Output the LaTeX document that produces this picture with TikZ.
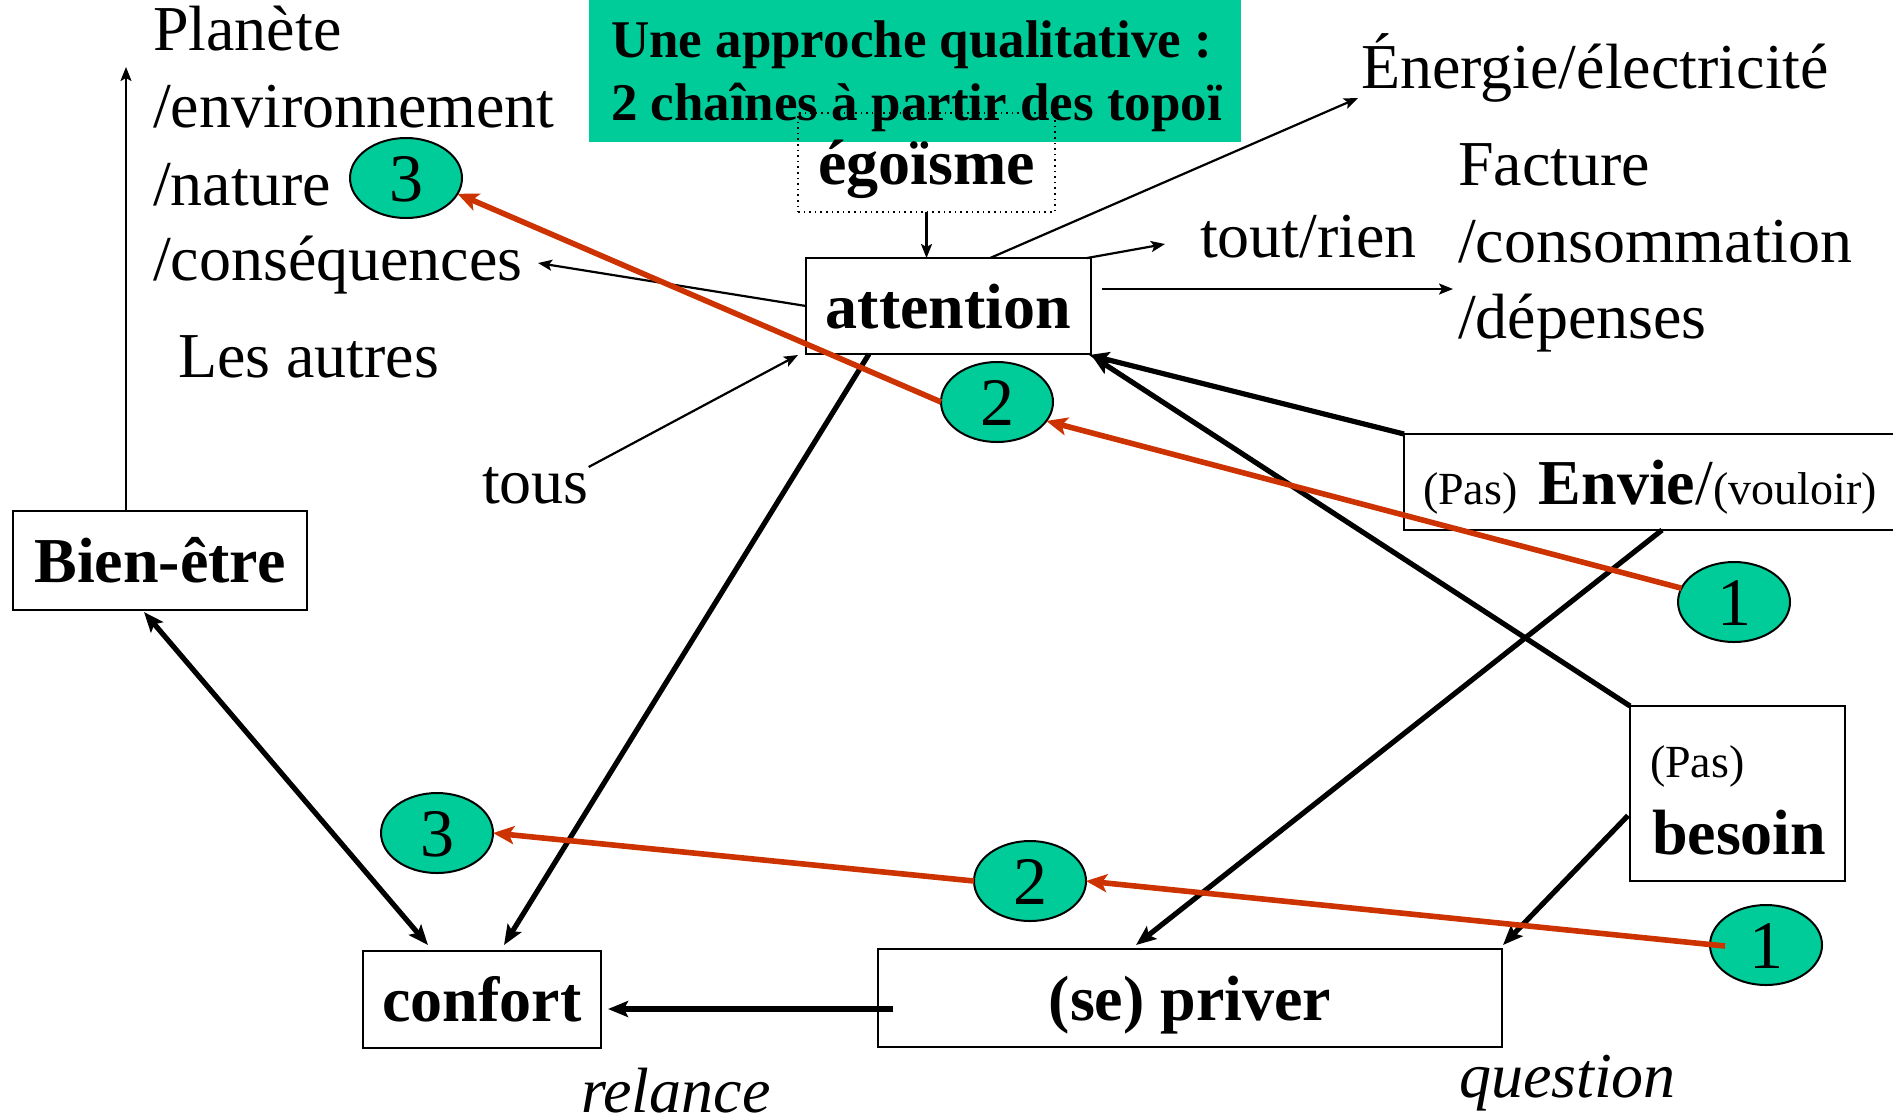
\documentclass[tikz,border=0pt]{standalone}
\usepackage{fontspec}
\setmainfont{Liberation Serif}
\usetikzlibrary{arrows.meta,shapes.geometric,calc}
\definecolor{tealg}{RGB}{0,204,153}
\definecolor{redc}{RGB}{204,51,0}
\newcommand{\smallsz}{\fontsize{23pt}{28pt}\selectfont}
\begin{document}
\begin{tikzpicture}[x=0.5pt,y=-0.5pt,
  every node/.style={inner sep=0pt, outer sep=0pt},
  bigr/.style={font=\fontsize{32pt}{38pt}\selectfont},
  bigb/.style={font=\fontsize{32pt}{38pt}\selectfont\bfseries},
  txt/.style={anchor=base west, bigr},
  boxn/.style={draw, line width=0.8pt, rectangle, text height=22pt, text depth=0pt, bigb},
  numb/.style={ellipse, draw=black, line width=1pt, fill=tealg, minimum width=56pt, minimum height=40pt, font=\fontsize{34pt}{40pt}\selectfont, text height=23pt, text depth=0pt},
  thinarr/.style={line width=1.1pt, -{Stealth[length=7pt,width=5.5pt,inset=1.5pt]}},
  thickarr/.style={line width=2.6pt, -{Stealth[length=10pt,width=8pt,inset=2pt]}},
  thickboth/.style={line width=2.6pt, {Stealth[length=10pt,width=8pt,inset=2pt]}-{Stealth[length=10pt,width=8pt,inset=2pt]}},
  redarr/.style={line width=2.8pt, draw=redc, -{Stealth[length=10.5pt,width=9pt,inset=2.5pt]}},
]
\useasboundingbox (0,0) rectangle (1893,1116);

% title
\node[fill=tealg, minimum width=326pt, minimum height=71pt, anchor=north west] (title) at (589,0) {};
\node[anchor=base west, font=\fontsize{26.5pt}{32pt}\selectfont\bfseries] (t1) at (611,57) {Une approche qualitative :};
\node[anchor=base west, font=\fontsize{26.5pt}{32pt}\selectfont\bfseries] (t2) at (611,120) {2 chaînes à partir des topoï};

% boxes
\node[boxn, dotted, line width=1pt, minimum width=128.5pt, minimum height=49.5pt] (ego) at (926.5,162.5) {égoïsme};
\node[boxn, minimum width=142.5pt, minimum height=48pt] (att) at (948.5,306) {attention};
\node[boxn, minimum width=147pt, minimum height=49.5pt] (bien) at (160,560.5) {Bien-être};
\node[boxn, minimum width=119pt, minimum height=48.5pt] (conf) at (482,999.5) {confort};
\node[boxn, minimum width=312pt, minimum height=49pt] (priv) at (1190,998) {(se) priver};
\node[draw, line width=0.8pt, bigr, anchor=north west, inner xsep=9.5pt, text width=227pt, align=left, minimum height=48pt, text height=22pt, text depth=0pt] (envie) at (1404,434) {{\smallsz (Pas) }\textbf{Envie}/{\smallsz(vouloir)}};
\node[draw, line width=0.8pt, minimum width=107.5pt, minimum height=87.5pt, anchor=north west] (besoin) at (1630,706) {};
\node[anchor=base west, font=\smallsz] (bpas) at (1650,777) {(Pas)};
\node[anchor=base west, bigb] (bbes) at (1652,854) {besoin};

% free texts
\node[txt] (planete) at (153,50) {Planète};
\node[txt] (envir) at (153,127) {/environnement};
\node[txt] (nature) at (153,205) {/nature};
\node[txt] (conseq) at (153,280) {/conséquences};
\node[txt] (autres) at (178,377) {Les autres};
\node[txt] (tous) at (482,503) {tous};
\node[txt] (ener) at (1361,88) {Énergie/électricité};
\node[txt] (toutrien) at (1200,257) {tout/rien};
\node[txt] (facture) at (1458,185) {Facture};
\node[txt] (consom) at (1458,262) {/consommation};
\node[txt] (depenses) at (1458,338) {/dépenses};
\node[txt, font=\fontsize{32pt}{38pt}\selectfont\itshape] (relance) at (581,1112) {relance};
\node[txt, font=\fontsize{32pt}{38pt}\selectfont\itshape] (question) at (1459,1097) {question};

% numbered ellipses
\node[numb] (e3t) at (406,178) {3};
\node[numb] (e2u) at (997,402) {2};
\node[numb] (e1u) at (1734,602) {1};
\node[numb] (e1l) at (1766,945) {1};
\node[numb] (e2l) at (1030,881) {2};
\node[numb] (e3l) at (437,833) {3};

% thin arrows
\coordinate (consend) at (538,263);
\coordinate (enerend) at (1358,98);
\coordinate (trend) at (1165,244);
\coordinate (facend) at (1453,289);
\coordinate (planend) at (126,67);
\draw[thinarr] (ego.south) -- (ego.south |- att.north);
\draw[thinarr] (att.west) -- (consend);
\draw[thinarr] ($(att.north west)!0.646!(att.north east)$) -- (enerend);
\draw[thinarr] ($(att.north east)+(-4,0)$) -- (trend);
\draw[thinarr] ($(att.east)+(11,-17)$) -- (facend);
\draw[thinarr] (tous.north east) -- ($(att.south west)+(-8,1)$);
\draw[thinarr] ($(bien.north west)+(113,0)$) -- (planend);

% thick arrows
\draw[thickboth] ($(bien.south west)+(131,2)$) -- ($(conf.north west)+(65,-6)$);
\draw[thickarr] ($(att.south west)!0.221!(att.south east)$) -- ($(conf.north west)+(141,-6)$);
\draw[thickarr] (envie.north west) -- ($(att.south east)+(-2,1)$);
\draw[thickarr] (besoin.north west) -- ($(att.south east)+(1,2)$);
\draw[thickarr] ($(envie.south west)+(258,0)$) -- ($(priv.north west)+(258,-4)$);
\draw[thickarr] ($(besoin.west)+(-2,22)$) -- ($(priv.north east)+(1,-4)$);
\draw[thickarr] ($(priv.west)+(15,11)$) -- ($(conf.east)+(7,9.5)$);

% red chains
\draw[redarr] (e1u) -- (e2u.-21);
\draw[redarr] (e2u.west) -- (e3t.-17);
\draw[redarr] ($(e1l)+(-41,1)$) -- (e2l.east);
\draw[redarr] (e2l.west) -- (e3l.east);
\end{tikzpicture}
\end{document}
